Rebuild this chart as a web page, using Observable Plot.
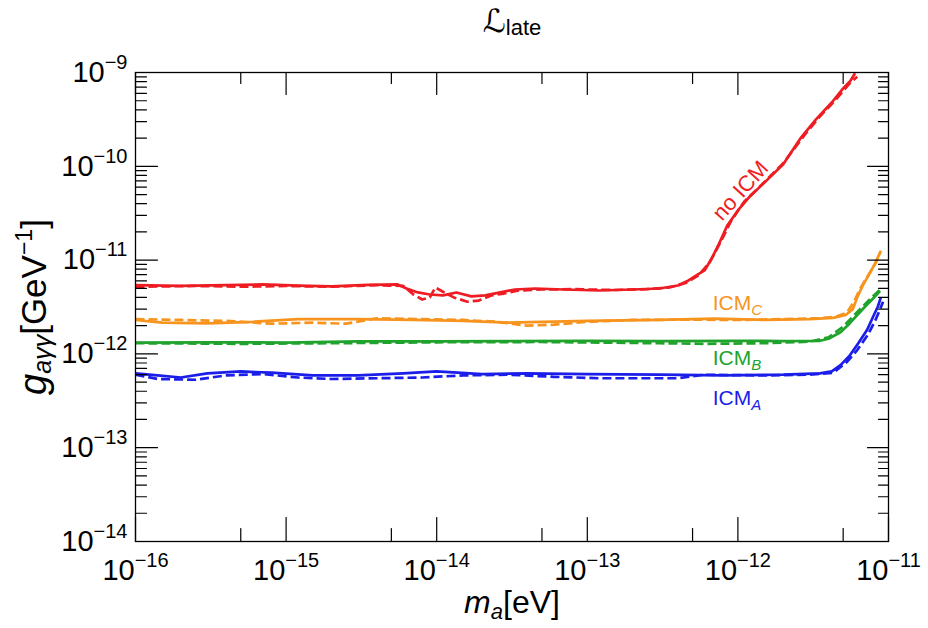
<!DOCTYPE html>
<html>
<head>
<meta charset="utf-8">
<script src="https://cdn.jsdelivr.net/npm/d3@7"></script>
<script src="https://cdn.jsdelivr.net/npm/@observablehq/plot@0.6"></script>
<style>
  html, body { margin: 0; padding: 0; background: #fff; }
</style>
</head>
<body>
<div id="chart"></div>
<script>
// ---- Data ----
const mNoICM = [1e-16, 2e-16, 4e-16, 7e-16, 1.2e-15, 2e-15, 3.5e-15, 5.5e-15, 6.3e-15, 7.5e-15, 9e-15, 1.1e-14, 1.35e-14, 1.7e-14, 2.1e-14, 2.6e-14, 3.3e-14, 4.5e-14, 7e-14, 1.2e-13, 2e-13, 3e-13, 4e-13, 4.7e-13, 5.3e-13, 6e-13, 6.7e-13, 7.5e-13, 8.5e-13, 1e-12, 1.2e-12, 1.5e-12, 2e-12, 2.6e-12, 3.3e-12, 4.2e-12, 5e-12, 5.6e-12, 6e-12];
const gNoICM = [5.4e-12, 5.3e-12, 5.4e-12, 5.5e-12, 5.35e-12, 5.25e-12, 5.45e-12, 5.5e-12, 4.98e-12, 4.52e-12, 4.3e-12, 4.2e-12, 4.52e-12, 4.1e-12, 4.2e-12, 4.5e-12, 4.86e-12, 4.98e-12, 4.86e-12, 4.74e-12, 4.86e-12, 4.98e-12, 5.36e-12, 6.07e-12, 6.86e-12, 7.76e-12, 1.04e-11, 1.5e-11, 2.34e-11, 3.38e-11, 4.77e-11, 6.7e-11, 1.05e-10, 1.98e-10, 3.16e-10, 4.79e-10, 6.76e-10, 8.2e-10, 9.8e-10];
const mNoICMDash = [1e-16, 2.5e-16, 5e-16, 1e-15, 2e-15, 4e-15, 6e-15, 7e-15, 8e-15, 9e-15, 9.8e-15, 1.1e-14, 1.3e-14, 1.6e-14, 1.9e-14, 2.3e-14, 2.8e-14, 3.5e-14, 5e-14, 8e-14, 1.5e-13, 2.5e-13, 3.5e-13, 4.5e-13, 5.5e-13, 6.5e-13, 7.5e-13, 9e-13, 1.1e-12, 1.5e-12, 2e-12, 2.8e-12, 3.5e-12, 4.5e-12, 5.5e-12, 6.2e-12];
const gNoICMDash = [5.2e-12, 5.3e-12, 5.2e-12, 5.3e-12, 5.2e-12, 5.4e-12, 5.3e-12, 4.3e-12, 3.8e-12, 4.0e-12, 5.1e-12, 4.6e-12, 4.0e-12, 3.6e-12, 3.7e-12, 4.2e-12, 4.4e-12, 4.74e-12, 4.86e-12, 4.9e-12, 4.8e-12, 4.9e-12, 5.1e-12, 5.7e-12, 6.9e-12, 9.5e-12, 1.45e-11, 2.6e-11, 4.2e-11, 6.8e-11, 1.08e-10, 2.2e-10, 3.4e-10, 5.2e-10, 7.6e-10, 9.0e-10];

const mICMC = [1e-16, 1.5e-16, 3e-16, 6e-16, 1.2e-15, 3e-15, 7e-15, 1.5e-14, 3e-14, 5e-14, 1e-13, 3e-13, 7e-13, 1.5e-12, 3e-12, 4.3e-12, 5.2e-12, 5.8e-12, 6.2e-12, 6.8e-12, 7.6e-12, 8.3e-12, 8.9e-12];
const gICMC = [2.3e-12, 2.15e-12, 2.12e-12, 2.2e-12, 2.35e-12, 2.35e-12, 2.3e-12, 2.25e-12, 2.15e-12, 2.2e-12, 2.25e-12, 2.3e-12, 2.38e-12, 2.3e-12, 2.35e-12, 2.42e-12, 2.6e-12, 3.0e-12, 4.0e-12, 5.5e-12, 7.5e-12, 9.8e-12, 1.26e-11];
const mICMCDash = [1e-16, 2e-16, 4e-16, 8e-16, 1.5e-15, 2.5e-15, 4e-15, 8e-15, 1.5e-14, 2.5e-14, 4e-14, 6e-14, 1e-13, 2e-13, 5e-13, 1e-12, 2e-12, 3.5e-12, 4.5e-12, 5.3e-12, 5.9e-12, 6.5e-12, 7.3e-12, 8.2e-12, 8.8e-12];
const gICMCDash = [2.35e-12, 2.3e-12, 2.25e-12, 2.1e-12, 2.15e-12, 2.1e-12, 2.4e-12, 2.35e-12, 2.3e-12, 2.2e-12, 2.0e-12, 2.05e-12, 2.2e-12, 2.3e-12, 2.32e-12, 2.3e-12, 2.35e-12, 2.4e-12, 2.5e-12, 2.75e-12, 3.6e-12, 5.0e-12, 6.8e-12, 9.2e-12, 1.2e-11];

const mICMB = [1e-16, 3e-16, 1e-15, 3e-15, 1e-14, 3e-14, 1e-13, 3e-13, 1e-12, 2e-12, 3.5e-12, 4e-12, 4.8e-12, 5.5e-12, 6.2e-12, 7e-12, 7.9e-12, 8.8e-12];
const gICMB = [1.32e-12, 1.33e-12, 1.32e-12, 1.36e-12, 1.36e-12, 1.37e-12, 1.38e-12, 1.37e-12, 1.38e-12, 1.37e-12, 1.38e-12, 1.45e-12, 1.7e-12, 2.1e-12, 2.6e-12, 3.2e-12, 3.9e-12, 4.7e-12];
const mICMBDash = [1e-16, 5e-16, 2e-15, 1e-14, 5e-14, 3e-13, 6e-13, 1.5e-12, 3e-12, 4e-12, 5e-12, 5.8e-12, 6.6e-12, 7.5e-12, 8.5e-12, 9e-12];
const gICMBDash = [1.3e-12, 1.28e-12, 1.3e-12, 1.33e-12, 1.34e-12, 1.3e-12, 1.28e-12, 1.3e-12, 1.35e-12, 1.5e-12, 1.95e-12, 2.5e-12, 3.1e-12, 3.8e-12, 4.6e-12, 5.0e-12];

const mICMA = [1e-16, 1.4e-16, 2e-16, 3e-16, 5e-16, 8e-16, 1.5e-15, 3e-15, 6e-15, 1e-14, 2e-14, 4e-14, 1e-13, 3e-13, 8e-13, 2e-12, 3.5e-12, 4.2e-12, 4.8e-12, 5.5e-12, 6.3e-12, 7.2e-12, 8e-12, 8.5e-12, 8.9e-12];
const gICMA = [6.2e-13, 5.9e-13, 5.6e-13, 6.2e-13, 6.5e-13, 6.3e-13, 5.9e-13, 5.9e-13, 6.2e-13, 6.5e-13, 6.1e-13, 6.2e-13, 6.1e-13, 6.0e-13, 5.9e-13, 6.0e-13, 6.2e-13, 6.5e-13, 7.6e-13, 9.5e-13, 1.3e-12, 1.8e-12, 2.6e-12, 3.2e-12, 4.0e-12];
const mICMADash = [1e-16, 1.4e-16, 2.5e-16, 4e-16, 7e-16, 1.2e-15, 2e-15, 4e-15, 8e-15, 1.5e-14, 3e-14, 6e-14, 1.2e-13, 2e-13, 4e-13, 6e-13, 1.5e-12, 3e-12, 4.3e-12, 5.3e-12, 6.2e-12, 7.3e-12, 8.2e-12, 8.8e-12, 9.2e-12];
const gICMADash = [6.0e-13, 5.4e-13, 5.3e-13, 5.9e-13, 6.1e-13, 5.6e-13, 5.4e-13, 5.5e-13, 5.6e-13, 5.9e-13, 6.0e-13, 5.7e-13, 5.5e-13, 5.5e-13, 5.5e-13, 6.0e-13, 5.9e-13, 6.0e-13, 6.3e-13, 8.2e-13, 1.1e-12, 1.6e-12, 2.3e-12, 3.0e-12, 3.6e-12];

// curve labels
const labelNames = ["no ICM", "ICM_C", "ICM_B", "ICM_A"];
const labelM = [1.04e-12, 6.8e-13, 6.8e-13, 6.8e-13];
const labelG = [5.5e-11, 3.5e-12, 8.9e-13, 3.4e-13];

// ticks
const xMajor = [1e-16, 1e-15, 1e-14, 1e-13, 1e-12, 1e-11];
const xMinor = [5e-16, 5e-15, 5e-14, 5e-13, 5e-12];
const yMajor = [1e-14, 1e-13, 1e-12, 1e-11, 1e-10, 1e-9];
const yMinor = d3.range(-14, -9).flatMap(e => d3.range(2, 10).map(k => k * Math.pow(10, e)));

const RED = "#ee1d23", ORANGE = "#f7941e", GREEN = "#20a32c", BLUE = "#1a1ee8";

const series = [
  {m: mNoICM, g: gNoICM, color: RED, dash: null},
  {m: mNoICMDash, g: gNoICMDash, color: RED, dash: "9,4"},
  {m: mICMC, g: gICMC, color: ORANGE, dash: null},
  {m: mICMCDash, g: gICMCDash, color: ORANGE, dash: "9,4"},
  {m: mICMB, g: gICMB, color: GREEN, dash: null},
  {m: mICMBDash, g: gICMBDash, color: GREEN, dash: "9,4"},
  {m: mICMA, g: gICMA, color: BLUE, dash: null},
  {m: mICMADash, g: gICMADash, color: BLUE, dash: "9,4"}
];
const rows = s => s.m.map((m, i) => ({m, g: s.g[i]}));

const tickShape = {draw(c, l) { c.moveTo(0, 0); c.lineTo(0, -l); }};
function ticks(data, anchor, len) {
  const rot = {bottom: 0, top: 180, left: 90, right: -90}[anchor];
  const ch = (anchor === "bottom" || anchor === "top") ? {x: d => d} : {y: d => d};
  return Plot.vector(data, {...ch, frameAnchor: anchor, length: len, rotate: rot, anchor: "start",
    shape: tickShape, stroke: "black", strokeWidth: 1.2});
}
const expFmt = d => "10^−" + Math.abs(Math.round(Math.log10(d)));

const labelRows = labelNames.map((n, i) => ({name: n, m: labelM[i], g: labelG[i]}));
const labelColors = [RED, ORANGE, GREEN, BLUE];

const svg = Plot.plot({
  width: 928,
  height: 628,
  marginLeft: 135,
  marginRight: 40,
  marginTop: 72,
  marginBottom: 87,
  style: {fontFamily: "'Liberation Sans', Arial, Helvetica, sans-serif", background: "#fff", color: "#000"},
  x: {type: "log", domain: [1e-16, 1e-11]},
  y: {type: "log", domain: [1e-14, 1e-9]},
  marks: [
    ...series.map(s => Plot.line(rows(s), {x: "m", y: "g", stroke: s.color, strokeWidth: 2.7,
      strokeDasharray: s.dash, strokeLinejoin: "round", strokeLinecap: "butt", clip: true})),
    Plot.frame({stroke: "black", strokeWidth: 1.3}),
    ticks(xMajor, "bottom", 24), ticks(xMinor, "bottom", 13),
    ticks(xMajor, "top", 22), ticks(xMinor, "top", 11),
    ticks(yMajor, "left", 22), ticks(yMinor, "left", 11),
    ticks(yMajor, "right", 21), ticks(yMinor, "right", 10),
    Plot.axisX(xMajor, {anchor: "bottom", tickSize: 0, tickPadding: 18, fontSize: 29, tickFormat: expFmt, label: null}),
    Plot.axisY(yMajor, {anchor: "left", tickSize: 0, tickPadding: 8, fontSize: 29, tickFormat: expFmt, label: null}),
    Plot.text(["XLABEL"], {frameAnchor: "bottom", dy: 61, lineAnchor: "middle", textAnchor: "middle", text: d => d, fontSize: 32}),
    Plot.text(["YLABEL"], {frameAnchor: "left", dx: -101, rotate: -90, lineAnchor: "middle", textAnchor: "middle", text: d => d, fontSize: 35}),
    Plot.text(["TITLE"], {frameAnchor: "top", dy: -50, lineAnchor: "middle", textAnchor: "middle", text: d => d, fontSize: 30}),
    ...labelRows.slice(1).map((r, i) => Plot.text([r], {x: "m", y: "g", text: "name", fill: labelColors[i + 1],
      textAnchor: "start", fontSize: 21})),
    Plot.text([labelRows[0]], {x: "m", y: "g", text: "name", fill: labelColors[0], rotate: -48, fontSize: 22})
  ]
});

// ---- rich text (sub/superscripts) ----
const rich = {
  "XLABEL": [{t: "m", italic: true}, {t: "a", italic: true, size: 22, shift: 6}, {t: "[eV]", shift: 0}],
  "YLABEL": [{t: "g", italic: true, size: 38}, {t: "aγγ", italic: true, size: 25, shift: 5}, {t: "[GeV", shift: 0},
             {t: "−1", size: 23, shift: -14}, {t: "]", shift: 0}],
  "TITLE": [{t: "ℒ", size: 32, family: "'DejaVu Serif', 'DejaVu Sans', serif"}, {t: "late", size: 22, shift: 3}],
  "ICM_C": [{t: "ICM"}, {t: "C", italic: true, size: 15, shift: 5}],
  "ICM_B": [{t: "ICM"}, {t: "B", italic: true, size: 15, shift: 5}],
  "ICM_A": [{t: "ICM"}, {t: "A", italic: true, size: 15, shift: 5}]
};
function build(el, parts) {
  const t = d3.select(el);
  t.text(null);
  let cur = 0;
  for (const p of parts) {
    const ts = t.append("tspan").text(p.t);
    if (p.size) ts.attr("font-size", p.size);
    if (p.italic) ts.attr("font-style", "italic");
    if (p.family) ts.attr("font-family", p.family);
    const target = p.shift || 0;
    if (target !== cur) { ts.attr("dy", target - cur); cur = target; }
  }
}
d3.select(svg).selectAll("text").each(function () {
  const s = this.textContent;
  if (rich[s]) build(this, rich[s]);
  else if (s.startsWith("10^")) build(this, [{t: "10"}, {t: s.slice(3), size: 20, shift: -13}]);
});

document.getElementById("chart").appendChild(svg);
</script>
</body>
</html>
